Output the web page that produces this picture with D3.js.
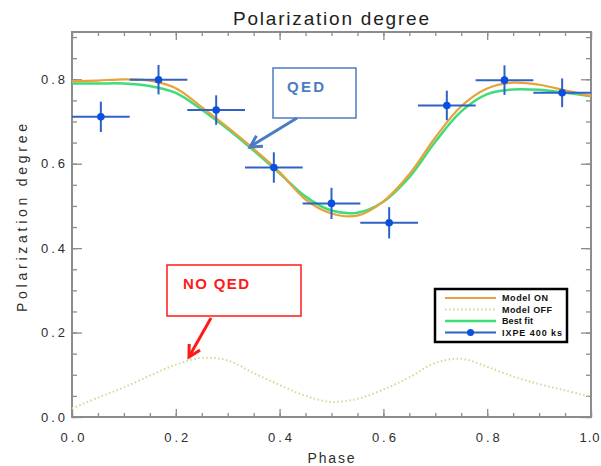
<!DOCTYPE html>
<html>
<head>
<meta charset="utf-8">
<script src="https://cdn.jsdelivr.net/npm/d3@7"></script>
<style>
  body { margin: 0; background: #fff; }
  svg { display: block; font-family: 'Liberation Sans', Arial, sans-serif; }
</style>
</head>
<body>
<svg id="chart" width="601" height="466"></svg>
<script>
// model curves, sampled every 0.05 in phase
const phase = [0, 0.05, 0.1, 0.15, 0.2, 0.25, 0.3, 0.35, 0.4, 0.45, 0.5, 0.55, 0.6, 0.65, 0.7, 0.75, 0.8, 0.85, 0.9, 0.95, 1.0]
const modelOn = [0.795, 0.797, 0.800, 0.797, 0.779, 0.734, 0.686, 0.635, 0.580, 0.515, 0.482, 0.477, 0.511, 0.575, 0.662, 0.736, 0.778, 0.792, 0.787, 0.774, 0.760]
const modelOff = [0.020, 0.046, 0.070, 0.098, 0.124, 0.140, 0.134, 0.104, 0.076, 0.050, 0.036, 0.043, 0.065, 0.094, 0.128, 0.138, 0.119, 0.096, 0.078, 0.063, 0.048]
const bestFit = [0.790, 0.790, 0.790, 0.784, 0.768, 0.728, 0.682, 0.631, 0.577, 0.522, 0.489, 0.484, 0.510, 0.568, 0.652, 0.724, 0.765, 0.776, 0.775, 0.768, 0.760]

// IXPE 400 ks simulated points
const ixpePhase = [0.0556, 0.1667, 0.2778, 0.3889, 0.5, 0.6111, 0.7222, 0.8333, 0.9444]
const ixpePD = [0.711, 0.799, 0.727, 0.591, 0.506, 0.460, 0.738, 0.798, 0.768]
const ixpeErr = [0.036, 0.035, 0.035, 0.036, 0.037, 0.037, 0.035, 0.035, 0.034]
const binHalf = 0.0556

const xTicks = [0, 0.2, 0.4, 0.6, 0.8, 1.0]
const yTicks = [0, 0.2, 0.4, 0.6, 0.8]
const legendLabels = ['Model ON', 'Model OFF', 'Best fit', 'IXPE 400 ks']

const plotLeft = 72
const plotRight = 591
const plotTop = 32
const plotBottom = 417
const axisColor = '#8c8c8c'
const textColor = '#2e2e2e'

const svg = d3.select('#chart')

const x = d3.scaleLinear().domain([0, 1]).range([plotLeft, plotRight])
const y = d3.scaleLinear().domain([0, 0.912]).range([plotBottom, plotTop])

// minor ticks (every 0.05), all four sides, pointing inward
const minorX = d3.range(0, 1.0001, 0.05)
const minorY = d3.range(0, 0.9001, 0.05)

svg.append('g')
  .attr('transform', `translate(0,${plotBottom})`)
  .call(d3.axisBottom(x).tickValues(minorX).tickSize(-4).tickFormat(''))
svg.append('g')
  .attr('transform', `translate(0,${plotTop})`)
  .call(d3.axisTop(x).tickValues(minorX).tickSize(-4).tickFormat(''))
svg.append('g')
  .attr('transform', `translate(${plotLeft},0)`)
  .call(d3.axisLeft(y).tickValues(minorY).tickSize(-5).tickFormat(''))
svg.append('g')
  .attr('transform', `translate(${plotRight},0)`)
  .call(d3.axisRight(y).tickValues(minorY).tickSize(-5).tickFormat(''))

// major ticks with labels
const xAxis = svg.append('g')
  .attr('class', 'x axis')
  .attr('transform', `translate(0,${plotBottom})`)
  .call(d3.axisBottom(x).tickValues(xTicks).tickSize(-8).tickPadding(16).tickFormat(d3.format('.1f')))
svg.append('g')
  .attr('transform', `translate(0,${plotTop})`)
  .call(d3.axisTop(x).tickValues(xTicks).tickSize(-8).tickFormat(''))
const yAxis = svg.append('g')
  .attr('class', 'y axis')
  .attr('transform', `translate(${plotLeft},0)`)
  .call(d3.axisLeft(y).tickValues(yTicks).tickSize(-10).tickPadding(7).tickFormat(d3.format('.1f')))
svg.append('g')
  .attr('transform', `translate(${plotRight},0)`)
  .call(d3.axisRight(y).tickValues(yTicks).tickSize(-10).tickFormat(''))

svg.selectAll('.domain').remove()
svg.selectAll('.tick line')
  .attr('stroke', axisColor)
  .attr('stroke-width', 1.3)

xAxis.selectAll('text')
  .attr('fill', textColor)
  .style('font-size', '13px')
  .attr('textLength', 24)
  .attr('lengthAdjust', 'spacing')
// the last label sits on the page edge: pull it in so it stays whole
xAxis.selectAll('.tick:last-of-type text')
  .attr('x', -2)
  .attr('textLength', 20)
yAxis.selectAll('text')
  .attr('fill', textColor)
  .style('font-size', '13px')
  .attr('textLength', 24)
  .attr('lengthAdjust', 'spacing')

// plot frame
svg.append('rect')
  .attr('x', plotLeft)
  .attr('y', plotTop)
  .attr('width', plotRight - plotLeft)
  .attr('height', plotBottom - plotTop)
  .attr('fill', 'none')
  .attr('stroke', axisColor)
  .attr('stroke-width', 2)

// titles
svg.append('text')
  .attr('x', 331)
  .attr('y', 25)
  .attr('text-anchor', 'middle')
  .attr('fill', '#222')
  .style('font-size', '19px')
  .attr('textLength', 196)
  .attr('lengthAdjust', 'spacing')
  .text('Polarization degree')

svg.append('text')
  .attr('x', 331)
  .attr('y', 463)
  .attr('text-anchor', 'middle')
  .attr('fill', textColor)
  .style('font-size', '14px')
  .attr('textLength', 47)
  .attr('lengthAdjust', 'spacing')
  .text('Phase')

svg.append('text')
  .attr('transform', 'translate(27,218) rotate(-90)')
  .attr('text-anchor', 'middle')
  .attr('fill', textColor)
  .style('font-size', '14px')
  .attr('textLength', 188)
  .attr('lengthAdjust', 'spacing')
  .text('Polarization degree')

// curves
const line = (values) => d3.line()
  .x((d, i) => x(phase[i]))
  .y(d => y(d))
  .curve(d3.curveCatmullRom)(values)

svg.append('path')
  .attr('d', line(modelOff))
  .attr('fill', 'none')
  .attr('stroke', '#d6d892')
  .attr('stroke-width', 2)
  .attr('stroke-dasharray', '1.5,2.5')

svg.append('path')
  .attr('d', line(bestFit))
  .attr('fill', 'none')
  .attr('stroke', '#3fdc7c')
  .attr('stroke-width', 2.5)

svg.append('path')
  .attr('d', line(modelOn))
  .attr('fill', 'none')
  .attr('stroke', '#e8a23a')
  .attr('stroke-width', 2.2)

// IXPE points with error bars
const pts = svg.append('g')
ixpePhase.forEach((p, i) => {
  pts.append('line')
    .attr('x1', x(p - binHalf)).attr('x2', x(p + binHalf))
    .attr('y1', y(ixpePD[i])).attr('y2', y(ixpePD[i]))
    .attr('stroke', '#2f62c4').attr('stroke-width', 2)
  pts.append('line')
    .attr('x1', x(p)).attr('x2', x(p))
    .attr('y1', y(ixpePD[i] - ixpeErr[i])).attr('y2', y(ixpePD[i] + ixpeErr[i]))
    .attr('stroke', '#2f62c4').attr('stroke-width', 2)
  pts.append('circle')
    .attr('cx', x(p)).attr('cy', y(ixpePD[i]))
    .attr('r', 3.8)
    .attr('fill', '#0a4fe0')
})

// legend
const lg = svg.append('g').attr('transform', 'translate(435,289)')
lg.append('rect')
  .attr('width', 132).attr('height', 53)
  .attr('fill', '#fff')
  .attr('stroke', '#000').attr('stroke-width', 2.5)
const legendStyles = [
  { color: '#e8a23a', dash: null, width: 2.2 },
  { color: '#d6d892', dash: '1.5,2.5', width: 2 },
  { color: '#3fdc7c', dash: null, width: 2.5 },
  { color: '#2f62c4', dash: null, width: 2 }
]
legendLabels.forEach((label, i) => {
  const ly = 9 + i * 11.5
  lg.append('line')
    .attr('x1', 10).attr('x2', 61)
    .attr('y1', ly).attr('y2', ly)
    .attr('stroke', legendStyles[i].color)
    .attr('stroke-width', legendStyles[i].width)
    .attr('stroke-dasharray', legendStyles[i].dash)
  if (i === 3) {
    lg.append('circle').attr('cx', 35.5).attr('cy', ly).attr('r', 3.5).attr('fill', '#0a4fe0')
  }
  lg.append('text')
    .attr('x', 67).attr('y', ly + 3.2)
    .attr('fill', '#111')
    .style('font-size', '9px')
    .style('font-weight', 'bold')
    .attr('textLength', [46, 50, 31, 60][i])
    .attr('lengthAdjust', 'spacing')
    .text(label)
})

// annotations
function arrowHead (g, tip, from, color) {
  const ang = Math.atan2(from[1] - tip[1], from[0] - tip[0])
  const len = 13
  const spread = 0.5
  g.append('path')
    .attr('d', `M${tip[0] + len * Math.cos(ang - spread)},${tip[1] + len * Math.sin(ang - spread)}` +
      `L${tip[0]},${tip[1]}` +
      `L${tip[0] + len * Math.cos(ang + spread)},${tip[1] + len * Math.sin(ang + spread)}`)
    .attr('fill', 'none')
    .attr('stroke', color)
    .attr('stroke-width', 3)
    .attr('stroke-linejoin', 'miter')
}

const qed = svg.append('g')
qed.append('rect')
  .attr('x', 273).attr('y', 68).attr('width', 83).attr('height', 50)
  .attr('fill', '#fff').attr('stroke', '#4a7cc2').attr('stroke-width', 1.5)
qed.append('text')
  .attr('x', 287).attr('y', 92)
  .attr('fill', '#4a7cc2')
  .style('font-size', '15px').style('font-weight', 'bold')
  .attr('textLength', 37).attr('lengthAdjust', 'spacing')
  .text('QED')
qed.append('line')
  .attr('x1', 297).attr('y1', 118).attr('x2', 251).attr('y2', 146)
  .attr('stroke', '#4a7cc2').attr('stroke-width', 3)
arrowHead(qed, [250, 147], [297, 118], '#4a7cc2')

const noqed = svg.append('g')
noqed.append('rect')
  .attr('x', 167).attr('y', 265).attr('width', 134).attr('height', 51)
  .attr('fill', '#fff').attr('stroke', '#ff1a1a').attr('stroke-width', 1.5)
noqed.append('text')
  .attr('x', 183).attr('y', 289)
  .attr('fill', '#ff1a1a')
  .style('font-size', '15px').style('font-weight', 'bold')
  .attr('textLength', 66).attr('lengthAdjust', 'spacing')
  .text('NO QED')
noqed.append('line')
  .attr('x1', 211).attr('y1', 318).attr('x2', 190).attr('y2', 355)
  .attr('stroke', '#ff1a1a').attr('stroke-width', 3)
arrowHead(noqed, [189, 357], [211, 318], '#ff1a1a')
</script>
</body>
</html>
